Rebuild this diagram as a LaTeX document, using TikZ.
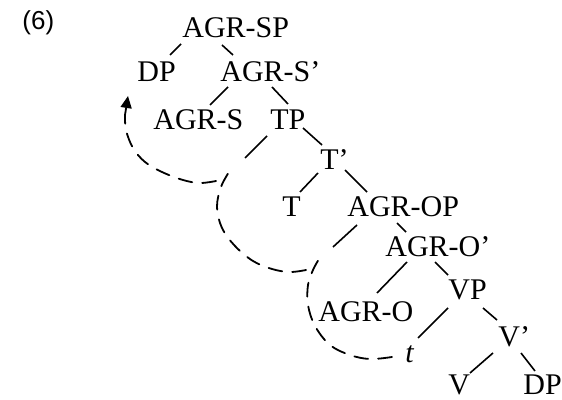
\documentclass[tikz,border=0pt]{standalone}
\usepackage{fontspec}
\setmainfont{Liberation Serif}
\newfontfamily\exfont{Liberation Sans}
\usetikzlibrary{arrows.meta}
\begin{document}
\begin{tikzpicture}[x=0.5pt,y=-0.5pt,
  lab/.style={anchor=base west,inner sep=0pt,font=\fontsize{15}{18}\selectfont},
  branch/.style={line width=0.8pt},
  move/.style={line width=0.9pt,dash pattern=on 7pt off 5pt,line cap=round}]
\useasboundingbox (0,0) rectangle (562,400);
% example number
\node[anchor=base west,inner sep=0pt,font=\exfont\fontsize{13}{15}\selectfont] (ex) at (22,30) {(6)};
% tree nodes
\node[lab] (AGRSP) at (182,38) {AGR-SP};
\node[lab] (DP1)   at (137,82) {DP};
\node[lab] (AGRSb) at (220,82) {AGR-S’};
\node[lab] (AGRS)  at (153,130) {AGR-S};
\node[lab] (TP)    at (270,130) {TP};
\node[lab] (Tb)    at (320,170) {T’};
\node[lab] (T)     at (282,217) {T};
\node[lab] (AGROP) at (347,217) {AGR-OP};
\node[lab] (AGROb) at (385,257) {AGR-O’};
\node[lab] (VP)    at (448,300) {VP};
\node[lab] (AGRO)  at (318,322) {AGR-O};
\node[lab] (tr)    at (405,363) {\textit{t}};
\node[lab] (Vb)    at (498,347) {V’};
\node[lab] (V)     at (448,395) {V};
\node[lab] (DP2)   at (523,395) {DP};
% branch end points
\coordinate (a1) at (181,44);  \coordinate (b1) at (170,55);
\coordinate (a2) at (222,45);  \coordinate (b2) at (233,55);
\coordinate (a3) at (228,87);  \coordinate (b3) at (210,105);
\coordinate (a4) at (272,87);  \coordinate (b4) at (288,104);
\coordinate (a5) at (267,136); \coordinate (b5) at (245,158);
\coordinate (a6) at (303,128); \coordinate (b6) at (322,145);
\coordinate (a7) at (318,173); \coordinate (b7) at (300,192);
\coordinate (a8) at (345,170); \coordinate (b8) at (367,192);
\coordinate (a9) at (357,225); \coordinate (b9) at (333,247);
\coordinate (a10) at (397,223); \coordinate (b10) at (406,232);
\coordinate (a11) at (407,262); \coordinate (b11) at (377,293);
\coordinate (a12) at (435,262); \coordinate (b12) at (448,275);
\coordinate (a13) at (448,308); \coordinate (b13) at (418,338);
\coordinate (a14) at (483,308); \coordinate (b14) at (497,320);
\coordinate (a15) at (493,353); \coordinate (b15) at (470,373);
\coordinate (a16) at (521,353); \coordinate (b16) at (535,371);
\foreach \i in {1,...,16} \draw[branch] (a\i) -- (b\i);
% movement path
\draw[move] plot[smooth,tension=0.6] coordinates
  {(392,357) (370,359) (350,355) (330,345) (315,326) (308,305) (308,285) (313,270) (319,259)};
\draw[move] plot[smooth,tension=0.6] coordinates
  {(306,270) (290,272) (272,269) (253,261) (235,246) (222,228) (217,207) (221,187) (229,172)};
\draw[move] plot[smooth,tension=0.6] coordinates
  {(216,181) (200,183) (183,180) (162,172) (145,162) (133,148) (126,130) (125,115)};
\draw[line width=0.9pt,-{Triangle[length=6pt,width=5.5pt]}] (125,115) -- (128,96);
\end{tikzpicture}
\end{document}
